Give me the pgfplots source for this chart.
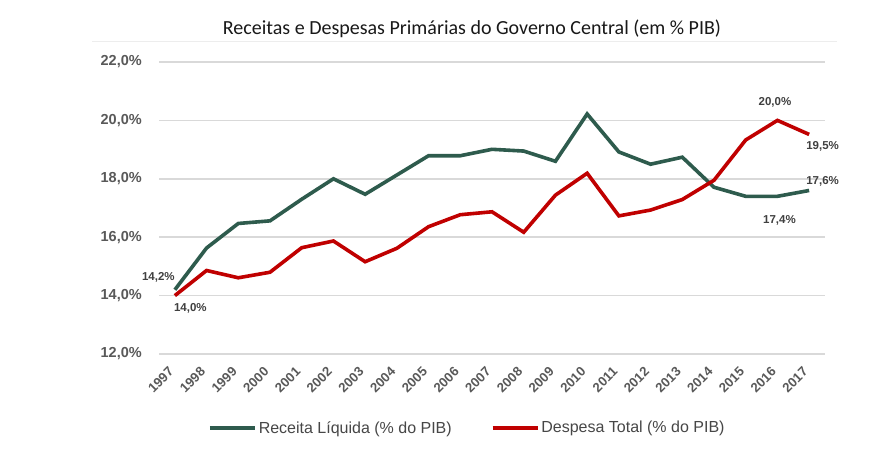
\documentclass[border=0pt]{standalone}
\usepackage{pgfplots}
\pgfplotsset{compat=1.18}
\usepackage{fontspec}
\setmainfont{Liberation Sans}
\newfontfamily\titlefont{Carlito}
\definecolor{recgreen}{HTML}{2E5B4D}
\definecolor{desred}{HTML}{C00000}
\definecolor{gridgray}{HTML}{D9D9D9}
\definecolor{ticklab}{HTML}{595959}
\definecolor{datalab}{HTML}{404040}
\pgfplotstableread{
year rec des
1997 14.2 14.0
1998 15.63 14.86
1999 16.47 14.61
2000 16.56 14.80
2001 17.30 15.64
2002 18.00 15.87
2003 17.47 15.16
2004 18.13 15.62
2005 18.79 16.36
2006 18.79 16.77
2007 19.01 16.87
2008 18.95 16.17
2009 18.60 17.44
2010 20.22 18.19
2011 18.92 16.73
2012 18.50 16.93
2013 18.74 17.29
2014 17.71 17.95
2015 17.40 19.33
2016 17.40 20.00
2017 17.60 19.52
}\datatable
\begin{document}
\begin{tikzpicture}[x=1pt,y=1pt]
\useasboundingbox[fill=white] (0,0) rectangle (883,458);
\draw[color=black!7, line width=1.5pt] (92,416.3) -- (837,416.3);
\node[font=\titlefont\fontsize{20}{24}\selectfont, color=black!90, anchor=base] at (472,423) {Receitas e Despesas Primárias do Governo Central (em \% PIB)};
\begin{axis}[
  at={(159pt,104pt)}, anchor=south west,
  scale only axis, width=666pt, height=292pt,
  xmin=1996.5, xmax=2017.5, ymin=12, ymax=22,
  axis line style={draw=none},
  major tick length=0pt,
  ytick={12,14,16,18,20,22},
  yticklabels={{12,0\%},{14,0\%},{16,0\%},{18,0\%},{20,0\%},{22,0\%}},
  xtick={1997,...,2017},
  xticklabels={1997,1998,1999,2000,2001,2002,2003,2004,2005,2006,2007,2008,2009,2010,2011,2012,2013,2014,2015,2016,2017},
  ymajorgrids,
  major grid style={color=gridgray, line width=1.5pt},
  yticklabel style={font=\bfseries\fontsize{14.5}{17}\selectfont, color=ticklab, anchor=east, inner sep=0pt, xshift=-17pt},
  xticklabel style={font=\bfseries\fontsize{13.2}{15}\selectfont, color=ticklab, inner sep=0pt, xshift=-7pt, yshift=-12pt, rotate=45, anchor=north east},
  clip=false,
  legend columns=2,
  legend style={draw=none, fill=none, at={(0.463,-0.253)}, anchor=center,
    font=\fontsize{16}{19}\selectfont, text=black!72,
    /tikz/every even column/.append style={column sep=37pt},
    inner sep=0pt, nodes={inner sep=2pt}},
  legend image code/.code={\draw[#1] (0pt,0pt) -- (45pt,0pt);},
]
\addplot[color=recgreen, line width=3.6pt] table[x=year,y=rec]{\datatable};
\addlegendentry{Receita Líquida (\% do PIB)}
\addplot[color=desred, line width=3.6pt] table[x=year,y=des]{\datatable};
\addlegendentry{Despesa Total (\% do PIB)}
\begin{scope}[every node/.style={font=\bfseries\fontsize{11.5}{13}\selectfont, color=datalab, inner sep=0pt}]
\node[xshift=-16.5pt, yshift=12.8pt] at (axis cs:1997,14.2) {14,2\%};
\node[xshift=15.5pt, yshift=-12.4pt] at (axis cs:1997,14.0) {14,0\%};
\node[xshift=-2.5pt, yshift=17.7pt] at (axis cs:2016,20.0) {20,0\%};
\node[xshift=13.5pt, yshift=-12.3pt] at (axis cs:2017,19.52) {19,5\%};
\node[xshift=13.5pt, yshift=8.8pt] at (axis cs:2017,17.6) {17,6\%};
\node[xshift=2pt, yshift=-23.7pt] at (axis cs:2016,17.4) {17,4\%};
\end{scope}
\end{axis}
\end{tikzpicture}
\end{document}
